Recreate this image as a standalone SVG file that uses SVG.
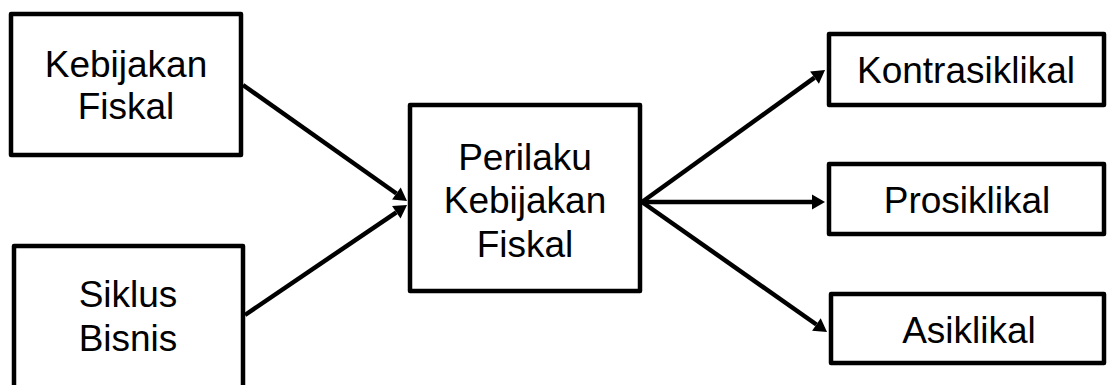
<svg xmlns="http://www.w3.org/2000/svg" width="1107" height="385" viewBox="0 0 1107 385">
  <style>
    .box { fill: #ffffff; stroke: #000000; stroke-width: 4.5; stroke-linejoin: round; }
    .lbl { font-family: "Liberation Sans", Arial, sans-serif; font-size: 37px; fill: #000000; text-anchor: middle; }
    .edge { stroke: #000000; stroke-width: 4.5; fill: none; marker-end: url(#head); }
  </style>
  <defs>
    <marker id="head" markerUnits="userSpaceOnUse" markerWidth="14" markerHeight="16" refX="0" refY="7.5" orient="auto" overflow="visible">
      <path d="M0,0 L13,7.5 L0,15 z" fill="#000000"/>
    </marker>
  </defs>
  <rect width="1107" height="385" fill="#ffffff"/>

  <g id="kebijakan-fiskal">
    <rect class="box" x="11" y="14" width="230" height="141"/>
    <text class="lbl" x="126" y="77">Kebijakan</text>
    <text class="lbl" x="126" y="119">Fiskal</text>
  </g>

  <g id="siklus-bisnis">
    <rect class="box" x="14" y="246" width="229" height="160"/>
    <text class="lbl" x="128" y="307">Siklus</text>
    <text class="lbl" x="128" y="351">Bisnis</text>
  </g>

  <g id="perilaku">
    <rect class="box" x="410" y="105" width="230" height="186"/>
    <text class="lbl" x="525" y="170">Perilaku</text>
    <text class="lbl" x="525" y="213">Kebijakan</text>
    <text class="lbl" x="525" y="257">Fiskal</text>
  </g>

  <g id="kontrasiklikal">
    <rect class="box" x="829" y="34" width="275" height="71"/>
    <text class="lbl" x="966" y="83">Kontrasiklikal</text>
  </g>

  <g id="prosiklikal">
    <rect class="box" x="829" y="164" width="275" height="70"/>
    <text class="lbl" x="967" y="213">Prosiklikal</text>
  </g>

  <g id="asiklikal">
    <rect class="box" x="831" y="294" width="273" height="69"/>
    <text class="lbl" x="969" y="343">Asiklikal</text>
  </g>

  <g id="connectors">
    <line class="edge" x1="243" y1="85" x2="396.4" y2="193.5"/>
    <line class="edge" x1="245" y1="315" x2="396.3" y2="212.3"/>
    <line class="edge" x1="642" y1="202" x2="814.5" y2="77.6"/>
    <line class="edge" x1="642" y1="202" x2="812" y2="202"/>
    <line class="edge" x1="642" y1="202" x2="816.4" y2="324.5"/>
  </g>
</svg>
